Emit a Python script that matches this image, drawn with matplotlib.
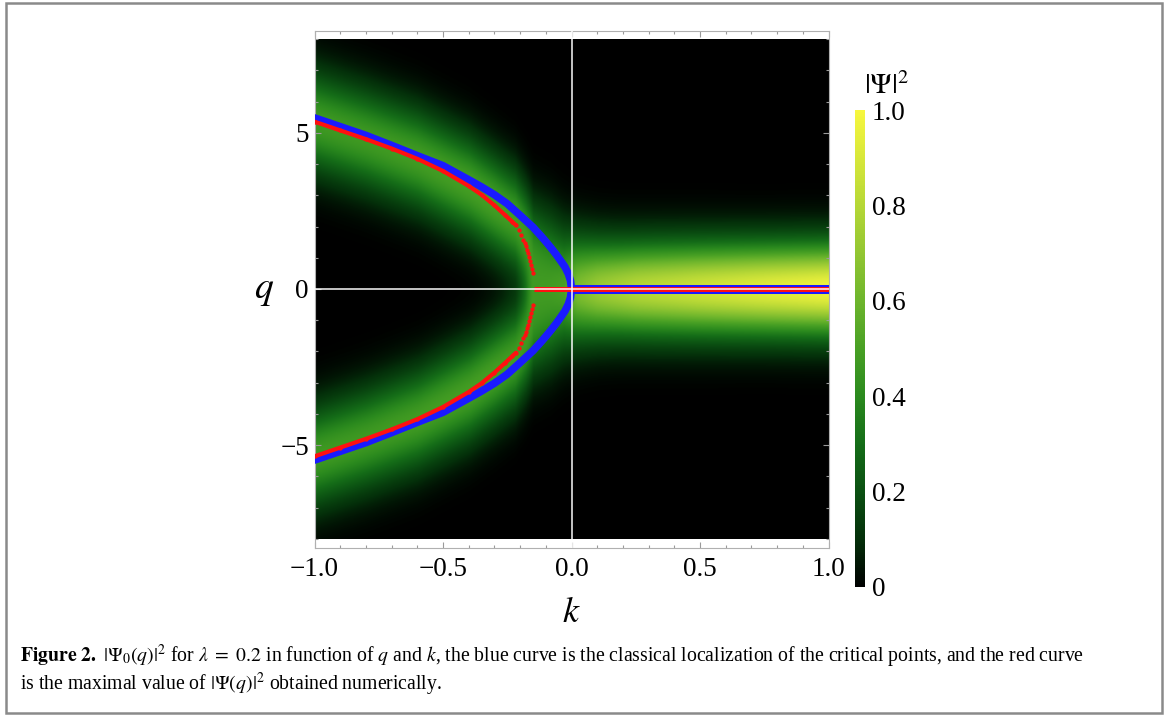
import numpy as np
import matplotlib
matplotlib.use("Agg")
import matplotlib.pyplot as plt
from matplotlib.colors import LinearSegmentedColormap
from matplotlib.patches import Rectangle

plt.rcParams['font.family'] = ['Liberation Serif', 'DejaVu Serif']
plt.rcParams['mathtext.fontset'] = 'stix'
plt.rcParams['axes.unicode_minus'] = True

# ---- data -------------------------------------------------------------
# classical localization of the critical points (upper branch, mirrored in q)
BLUE_K = [-1.0, -0.9, -0.8, -0.7, -0.6, -0.5, -0.4, -0.35, -0.3, -0.25,
          -0.2, -0.15, -0.12, -0.1, -0.08, -0.06, -0.04, -0.025, -0.012,
          -0.004, 0.0]
BLUE_Q = [5.48, 5.2, 4.92, 4.6, 4.27, 3.95, 3.5, 3.27, 3.02, 2.73,
          2.36, 1.98, 1.71, 1.52, 1.32, 1.11, 0.88, 0.7, 0.48,
          0.27, 0.0]
BLUE_AXIS_K = [0.0, 1.0]

# numerically obtained maximum of |Psi(q)|^2 (upper branch, mirrored in q)
RED_K = [-1.0, -0.9, -0.8, -0.7, -0.6, -0.5, -0.4, -0.35, -0.3, -0.26,
         -0.23, -0.216, -0.204, -0.196, -0.188, -0.182, -0.177, -0.172,
         -0.168, -0.164, -0.161, -0.157, -0.153, -0.149]
RED_Q = [5.36, 5.08, 4.8, 4.5, 4.17, 3.78, 3.3, 3.02, 2.68, 2.38,
         2.15, 2.04, 1.88, 1.74, 1.56, 1.46, 1.37, 1.26,
         1.15, 1.02, 0.9, 0.76, 0.63, 0.5]
RED_AXIS_K = [-0.145, 1.0]

# ridge description of the density |Psi_0(q)|^2 along k
FIELD_K = [-1.0, -0.8, -0.6, -0.4, -0.3, -0.22, -0.18, -0.15, -0.08,
           -0.03, 0.02, 0.1, 0.25, 0.5, 0.75, 1.0]
FIELD_C = [5.36, 4.8, 4.17, 3.3, 2.7, 2.2, 1.65, 1.15, 0.9,
           0.65, 0.4, 0.25, 0.0, 0.0, 0.0, 0.0]
FIELD_SIGMA = [1.1, 1.1, 1.1, 1.1, 1.1, 1.1, 1.12, 1.15, 1.15,
               1.12, 1.08, 1.05, 1.04, 1.03, 1.02, 1.02]
FIELD_PEAK = [0.47, 0.47, 0.48, 0.49, 0.49, 0.48, 0.47, 0.47, 0.48,
              0.5, 0.64, 0.72, 0.8, 0.87, 0.93, 0.98]

X_TICKS = [-1.0, -0.5, 0.0, 0.5, 1.0]
X_LABELS = ["\u22121.0", "\u22120.5", "0.0", "0.5", "1.0"]
Y_TICKS = [-5, 0, 5]
Y_LABELS = ["\u22125", "0", "5"]
CB_TICKS = [0.0, 0.2, 0.4, 0.6, 0.8, 1.0]
CB_LABELS = ["0", "0.2", "0.4", "0.6", "0.8", "1.0"]

# ---- colour map (black -> green -> yellow) ----------------------------
avocado = LinearSegmentedColormap.from_list("avocado", [
    (0.0, "#000000"), (0.1, "#04300a"), (0.2, "#0b5012"), (0.3, "#156d18"),
    (0.4, "#2b8a1e"), (0.5, "#48a024"), (0.6, "#6db52c"), (0.7, "#92c632"),
    (0.8, "#b5d736"), (0.9, "#d7e73a"), (1.0, "#f7f73e")])

W, H = 1174, 715
fig = plt.figure(figsize=(W / 100, H / 100), dpi=100)
fig.patch.set_facecolor("white")

ax = fig.add_axes([314.5 / W, 1 - 547.5 / H, 514 / W, 517 / H])

# density field built from the ridge description
kk = np.linspace(-1, 1, 801)
qq = np.linspace(-8, 8, 801)
K, Q = np.meshgrid(kk, qq)
c = np.interp(kk, FIELD_K, FIELD_C)
s = np.interp(kk, FIELD_K, FIELD_SIGMA)
p = np.interp(kk, FIELD_K, FIELD_PEAK)
raw = np.exp(-(Q - c) ** 2 / (2 * s ** 2)) + np.exp(-(Q + c) ** 2 / (2 * s ** 2))
Z = raw / raw.max(axis=0) * p

im = ax.imshow(Z, origin="lower", extent=[-1, 1, -8, 8], cmap=avocado,
               vmin=0, vmax=1, aspect="auto", interpolation="bilinear", zorder=1)

bk = np.array(BLUE_K)
bq = np.array(BLUE_Q)
ax.plot(np.r_[bk, bk[::-1]], np.r_[bq, -bq[::-1]], color="#1a1aff", lw=5.5,
        solid_capstyle="round", solid_joinstyle="round", zorder=3)
ax.plot(BLUE_AXIS_K, [0, 0], color="#1a1aff", lw=6.5, solid_capstyle="butt", zorder=3)

rk = np.array(RED_K)
rq = np.array(RED_Q)
cont = rk <= -0.216
for sign in (1, -1):
    ax.plot(rk[cont], sign * rq[cont], color="#ff1010", lw=3.0,
            solid_capstyle="round", zorder=4)
    ax.plot(rk, sign * rq, "o", color="#ff1010", ms=3.1, mew=0, zorder=4)
ax.plot(RED_AXIS_K, [0, 0], color="#ff1010", lw=3.6, solid_capstyle="butt", zorder=4)

# coordinate axes through the origin
ax.axhline(0, color="white", lw=1.2, alpha=0.9, zorder=5)
ax.axvline(0, color="white", lw=1.2, alpha=0.9, zorder=5)

ax.set_xlim(-1, 1)
ax.set_ylim(-8.28, 8.28)
ax.set_facecolor("white")
ax.set_xticks(X_TICKS)
ax.set_xticklabels(X_LABELS)
ax.set_yticks(Y_TICKS)
ax.set_yticklabels(Y_LABELS)
ax.set_xticks(np.arange(-1.0, 1.0001, 0.1), minor=True)
ax.set_yticks(np.arange(-8, 9, 1), minor=True)
ax.tick_params(which="both", direction="in", top=True, right=True,
               color="#9a9a9a", width=0.8, labelsize=19.5)
ax.tick_params(which="major", length=4.0)
ax.tick_params(which="minor", length=2.3)
ax.tick_params(axis="x", pad=7)
ax.tick_params(axis="y", pad=4)
for sp in ax.spines.values():
    sp.set_color("#b0b0b0")
    sp.set_linewidth(0.8)

ax.set_xlabel("$k$", fontsize=26)
ax.xaxis.set_label_coords(0.5, -0.095)
ax.text(-0.098, 0.497, "$q$", transform=ax.transAxes, fontsize=27,
        ha="center", va="center")

# colour bar
cax = fig.add_axes([855 / W, 1 - 587 / H, 10 / W, 477 / H])
cb = fig.colorbar(im, cax=cax)
cb.outline.set_visible(False)
cb.set_ticks(CB_TICKS)
cb.set_ticklabels(CB_LABELS)
cax.tick_params(length=0, pad=5, labelsize=19.5)
fig.text(887 / W, 1 - 86 / H, r"$|\Psi|^2$", fontsize=21, ha="center", va="center")

# caption
fig.text(20 / W, 1 - 662 / H,
         r"$\mathbf{Figure\ 2.}$ $|\Psi_0(q)|^2$ for $\lambda\ =\ 0.2$ in function of $q$ and $k$, "
         "the blue curve is the classical localization of the critical points, and the red curve",
         fontsize=14.2, ha="left", va="baseline")
fig.text(20 / W, 1 - 690 / H,
         r"is the maximal value of $|\Psi(q)|^2$ obtained numerically.",
         fontsize=14.2, ha="left", va="baseline")

# page frame
fig.patches.append(Rectangle((6 / W, 2 / H), (1162 - 6) / W, (713 - 3) / H,
                             transform=fig.transFigure, fill=False,
                             ec="#8a8a8a", lw=1.8))

fig.savefig("out.png", dpi=100, facecolor="white")
